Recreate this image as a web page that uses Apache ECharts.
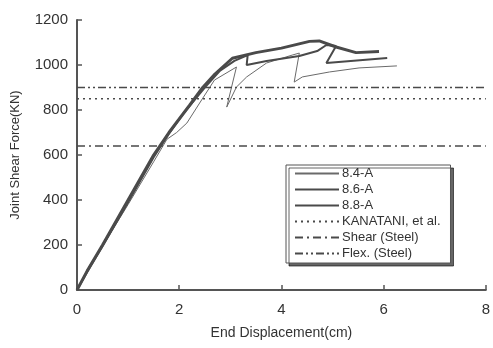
<!DOCTYPE html>
<html><head><meta charset="utf-8">
<script src="https://cdn.jsdelivr.net/npm/echarts@6/dist/echarts.min.js"></script>
<style>html,body{margin:0;padding:0;background:#fff}#c{width:493px;height:348px}</style>
</head><body><div id="c"></div>
<script>
// Data (x: End Displacement cm, y: Joint Shear Force kN)
const s84 = [[0,0],[0.2,90],[0.29,125],[0.5,195],[1.0,380],[1.5,570],[1.76,670],[1.95,700],[2.15,742],[2.4,831],[2.69,933],[3.12,991],[2.93,813],[3.12,902],[3.32,947],[3.71,1009],[4.21,1044],[4.35,1053],[4.25,924],[4.41,947],[4.94,969],[5.52,987],[6.26,996]];
const s86 = [[0,0],[0.25,100],[0.5,195],[1.0,390],[1.5,590],[1.8,695],[2.1,790],[2.5,900],[2.8,975],[3.08,1018],[3.34,1044],[3.32,1000],[3.71,1018],[4.35,1040],[4.7,1062],[4.88,1089],[5.07,1084],[4.88,1009],[6.07,1031]];
const s88 = [[0,0],[0.2,85],[0.5,200],[1.0,400],[1.5,600],[1.8,700],[2.0,760],[2.2,820],[2.46,900],[2.7,960],[3.04,1030],[3.5,1055],[4.0,1075],[4.55,1105],[4.74,1107],[5.07,1080],[5.46,1055],[5.91,1060]];
const kanatani = 850;
const shearSteel = 640;
const flexSteel = 900;
const xRange = [0, 8];
const yRange = [0, 1200];
const names = ['8.4-A','8.6-A','8.8-A','KANATANI, et al.','Shear (Steel)','Flex. (Steel)'];

const hline = v => [[xRange[0], v], [xRange[1], v]];
const lineCol = '#4a4a4a';
const chart = echarts.init(document.getElementById('c'), null, {renderer:'canvas'});
const mk = (name, data, w, type, col) => ({
  name, type:'line', data, symbol:'none', showSymbol:false, animation:false,
  lineStyle:{width:w, color:col||lineCol, type:type||'solid'},
  itemStyle:{color:col||lineCol}
});
chart.setOption({
  animation:false,
  textStyle:{fontFamily:'Liberation Sans, Arial, sans-serif'},
  grid:{left:77, right:6, top:20, bottom:58},
  xAxis:{type:'value', min:xRange[0], max:xRange[1], interval:2,
    name:'End Displacement(cm)', nameLocation:'middle', nameGap:36,
    nameTextStyle:{fontSize:14, color:'#333'},
    axisLine:{lineStyle:{color:'#555', width:2}},
    axisTick:{inside:true, length:5, lineStyle:{color:'#555', width:1.5}},
    axisLabel:{fontSize:15, color:'#333', margin:12},
    splitLine:{show:false}},
  yAxis:{type:'value', min:yRange[0], max:yRange[1], interval:200,
    name:'Joint Shear Force(KN)', nameLocation:'middle', nameGap:55,
    nameTextStyle:{fontSize:13, color:'#333'},
    axisLine:{show:true, lineStyle:{color:'#555', width:2}},
    axisTick:{show:true, inside:true, length:5, lineStyle:{color:'#555', width:1.5}},
    axisLabel:{fontSize:15, color:'#333', margin:9, formatter:v => String(v)},
    splitLine:{show:false}},
  legend:{
    show:true,
    data:names, orient:'vertical', left:286, top:165,
    itemWidth:44, itemHeight:10, itemGap:3,
    backgroundColor:'#fff', borderColor:'#555', borderWidth:1,
    padding:[2,10,3,8],
    shadowColor:'rgba(0,0,0,0.6)', shadowBlur:0, shadowOffsetX:3, shadowOffsetY:3,
    itemStyle:{opacity:0},
    textStyle:{fontSize:13, color:'#333', padding:[0,0,0,-2]}
  },
  series:[
    mk(names[0], s84, 1, 'solid', '#6a6a6a'),
    mk(names[1], s86, 2, 'solid'),
    mk(names[2], s88, 3, 'solid'),
    mk(names[3], hline(kanatani), 1.5, [2,4]),
    mk(names[4], hline(shearSteel), 1.5, [8,4,2,4]),
    mk(names[5], hline(flexSteel), 1.5, [8,3,2,3,2,3])
  ]
});
</script></body></html>
